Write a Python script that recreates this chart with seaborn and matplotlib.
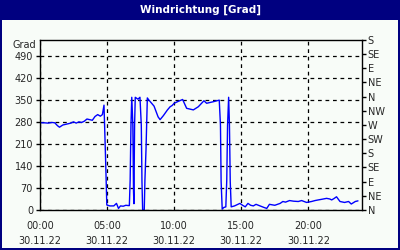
import matplotlib
matplotlib.use("Agg")
import matplotlib.pyplot as plt
from matplotlib.patches import Rectangle
import seaborn as sns
import pandas as pd

# --- data ---
hours = [0.0, 0.3, 0.6, 0.9, 1.1, 1.3, 1.45, 1.7, 2.0, 2.3, 2.5, 2.7, 2.9, 3.1, 3.3, 3.5,
         3.7, 3.9, 4.1, 4.3, 4.5, 4.65, 4.77, 4.88, 4.98, 5.2, 5.5, 5.7, 5.85, 6.0, 6.2, 6.4,
         6.6, 6.66, 6.72, 6.78, 6.84, 6.92, 6.97, 7.0, 7.05, 7.1, 7.3, 7.45, 7.55, 7.6, 7.65,
         7.77, 7.82, 7.9, 8.0, 8.1, 8.3, 8.5, 8.8, 8.95, 9.2, 9.5, 9.7, 9.85, 10.0, 10.3,
         10.63, 10.93, 11.43, 11.8, 12.22, 12.42, 12.92, 13.36, 13.45, 13.5, 13.58, 13.7,
         13.85, 13.92, 13.98, 14.06, 14.12, 14.18, 14.25, 14.5, 14.9, 15.1, 15.3, 15.5, 15.7,
         15.9, 16.1, 16.4, 16.7, 16.9, 17.1, 17.5, 17.9, 18.1, 18.3, 18.6, 18.9, 19.25, 19.5,
         19.87, 20.24, 20.5, 20.74, 21.0, 21.36, 21.6, 21.74, 21.9, 22.1, 22.36, 22.7, 23.0,
         23.2, 23.5, 23.7]
direction = [277, 277, 276, 278, 277, 268, 263, 270, 273, 276, 280, 276, 280, 278, 282, 289,
             287, 285, 297, 303, 298, 303, 333, 175, 16, 13, 13, 21, 5, 13, 12, 15,
             14, 14, 95, 270, 358, 270, 60, 20, 270, 358, 352, 358, 270, 90, 0,
             0, 95, 190, 356, 350, 340, 330, 296, 287, 300, 318, 328, 332, 339, 345,
             351, 323, 318, 328, 347, 339, 344, 349, 270, 90, 3, 8,
             10, 95, 270, 358, 270, 90, 10, 13, 21, 15, 10, 21, 15,
             13, 18, 13, 8, 5, 18, 15, 21, 27, 25, 30, 28, 27, 30,
             24, 27, 30, 32, 34, 37, 35, 32, 36, 42, 27, 24, 27,
             19, 27, 29]

left_ticks = [0, 70, 140, 210, 280, 350, 420, 490]
right_ticks = [0, 45, 90, 135, 180, 225, 270, 315, 360, 405, 450, 495, 540]
right_labels = ["N", "NE", "E", "SE", "S", "SW", "W", "NW", "N", "NE", "E", "SE", "S"]
x_major = [0, 5, 10, 15, 20]
x_labels = ["00:00\n30.11.22", "05:00\n30.11.22", "10:00\n30.11.22",
            "15:00\n30.11.22", "20:00\n30.11.22"]
title = "Windrichtung [Grad]"
unit = "Grad"

df = pd.DataFrame({"h": hours, "deg": direction})

sns.set_style("white")
plt.rcParams["font.family"] = ["DejaVu Sans"]

bg = "#F8FCF8"
navy = "#000080"
fig = plt.figure(figsize=(4, 2.5), dpi=100, facecolor=bg)

# frame and title bar
fig.patches.append(Rectangle((0, 0.92), 1, 0.08, transform=fig.transFigure,
                             facecolor=navy, edgecolor="none", zorder=0))
fig.patches.append(Rectangle((0, 0), 0.005, 1, transform=fig.transFigure,
                             facecolor=navy, edgecolor="none", zorder=0))
fig.patches.append(Rectangle((0.995, 0), 0.005, 1, transform=fig.transFigure,
                             facecolor=navy, edgecolor="none", zorder=0))
fig.patches.append(Rectangle((0, 0), 1, 0.008, transform=fig.transFigure,
                             facecolor=navy, edgecolor="none", zorder=0))
fig.text(0.5, 0.96, title, color="white", fontweight="bold", fontsize=7.5,
         ha="center", va="center")

ax = fig.add_axes([0.1, 0.16, 0.805, 0.68])
ax.set_facecolor(bg)
sns.lineplot(data=df, x="h", y="deg", ax=ax, color="#0000FF", linewidth=1,
             estimator=None, sort=False)
ax.set_xlim(0, 24)
ax.set_ylim(0, 540)
ax.set_xlabel("")
ax.set_ylabel("")
ax.set_yticks(left_ticks)
ax.set_yticklabels([str(t) for t in left_ticks])
ax.set_xticks(x_major)
ax.set_xticklabels(x_labels, linespacing=1.6)
ax.set_xticks(range(0, 25), minor=True)
ax.tick_params(axis="x", which="both", direction="out", length=4, width=1,
               color="black", labelsize=7, pad=4)
ax.tick_params(axis="y", direction="out", length=3, width=1, color="black",
               labelsize=7, pad=2)
for s in ax.spines.values():
    s.set_color("black")
    s.set_linewidth(1)
ax.grid(True, which="major", color="black", linestyle=(0, (3, 3)), linewidth=0.9)
ax.text(-0.012, 0.97, unit, transform=ax.transAxes, fontsize=7,
        ha="right", va="center")

ax2 = ax.twinx()
ax2.set_ylim(0, 540)
ax2.set_yticks(right_ticks)
ax2.set_yticklabels(right_labels)
ax2.tick_params(axis="y", direction="out", length=3, width=1, color="black",
                labelsize=7, pad=1)
ax2.grid(False)
for s in ax2.spines.values():
    s.set_visible(False)

fig.savefig("out.png", dpi=100, facecolor=bg)
